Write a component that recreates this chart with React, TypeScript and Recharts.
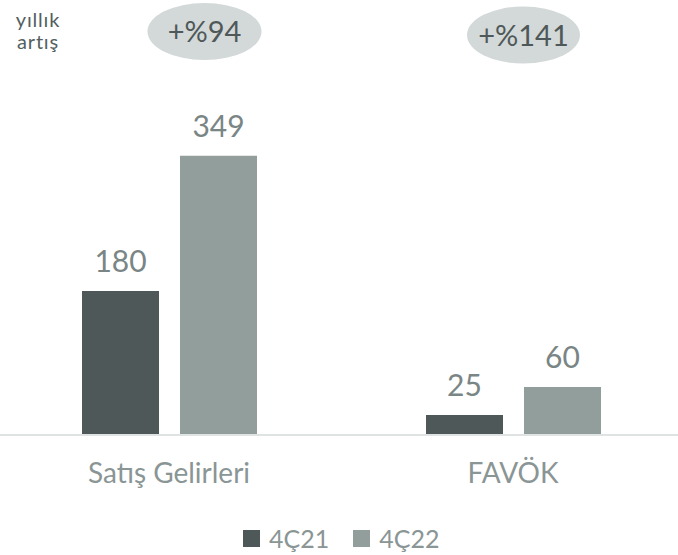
import React from 'react';
import { BarChart, Bar, XAxis, YAxis, LabelList, Legend, Customized } from 'recharts';

const categories = ['Satış Gelirleri', 'FAVÖK'];
const values4C21 = [180, 25];
const values4C22 = [349, 60];
const seriesNames = ['4Ç21', '4Ç22'];
const growthLabels = ['+%94', '+%141'];
const sideNote = ['yıllık', 'artış'];

const data = categories.map((c, i) => ({ name: c, a: values4C21[i], b: values4C22[i] }));

const DARK = '#4f5859';
const LIGHT = '#929e9c';
const FONT = 'Lato, "Open Sans", sans-serif';

const ellipses = [
  { cx: 204.5, cy: 31.5, rx: 57, ry: 28.5 },
  { cx: 523.5, cy: 35, rx: 56.5, ry: 28.5 },
];

const Annotations = () => (
  <g>
    {ellipses.map((e, i) => (
      <g key={i}>
        <ellipse cx={e.cx} cy={e.cy} rx={e.rx} ry={e.ry} fill="#d3d8d8" />
        <text x={e.cx} y={e.cy + 10.5} textAnchor="middle" fontSize={29} fill="#4f5859" fontFamily={FONT}>
          {growthLabels[i]}
        </text>
      </g>
    ))}
  </g>
);

const LegendContent = () => (
  <div style={{ display: 'flex', alignItems: 'center', fontFamily: FONT, fontSize: 25, color: '#8a9595', whiteSpace: 'nowrap' }}>
    <span style={{ width: 17, height: 17, background: DARK, display: 'inline-block', marginRight: 9 }} />
    <span style={{ marginRight: 24 }}>{seriesNames[0]}</span>
    <span style={{ width: 17, height: 17, background: LIGHT, display: 'inline-block', marginRight: 9 }} />
    <span>{seriesNames[1]}</span>
  </div>
);

export default function App() {
  return (
    <div style={{ position: 'relative', width: 678, height: 555 }}>
      <style>{`body{margin:0;overflow:hidden;background:#fff}`}</style>
      <BarChart
        width={678}
        height={555}
        data={data}
        margin={{ top: 35, right: -7, left: -3, bottom: 60 }}
        barSize={77}
        barGap={21}
      >
        <YAxis hide domain={[0, 500]} />
        <XAxis
          dataKey="name"
          height={60}
          axisLine={{ stroke: '#dfe3e3', strokeWidth: 2 }}
          tickLine={false}
          tickMargin={22}
          tick={{ fill: '#8a9595', fontSize: 28, fontFamily: FONT }}
          interval={0}
        />
        <Bar dataKey="a" name={seriesNames[0]} fill={DARK} isAnimationActive={false}>
          <LabelList dataKey="a" position="top" offset={19} fill="#7a8585" fontSize={30} fontFamily={FONT} />
        </Bar>
        <Bar dataKey="b" name={seriesNames[1]} fill={LIGHT} isAnimationActive={false}>
          <LabelList dataKey="b" position="top" offset={19} fill="#7a8585" fontSize={30} fontFamily={FONT} />
        </Bar>
        <Legend
          layout="vertical"
          align="center"
          verticalAlign="bottom"
          content={<LegendContent />}
          wrapperStyle={{ left: 243, top: 523, bottom: 'auto', width: 'auto', height: 0, overflow: 'visible' }}
        />
        <Customized component={<Annotations />} />
      </BarChart>
      <div
        style={{
          position: 'absolute',
          left: 8,
          top: 8,
          width: 60,
          textAlign: 'center',
          fontFamily: FONT,
          fontSize: 20,
          lineHeight: '22px',
          letterSpacing: 0.8,
          color: '#555f5f',
        }}
      >
        {sideNote[0]}
        <br />
        {sideNote[1]}
      </div>
    </div>
  );
}
